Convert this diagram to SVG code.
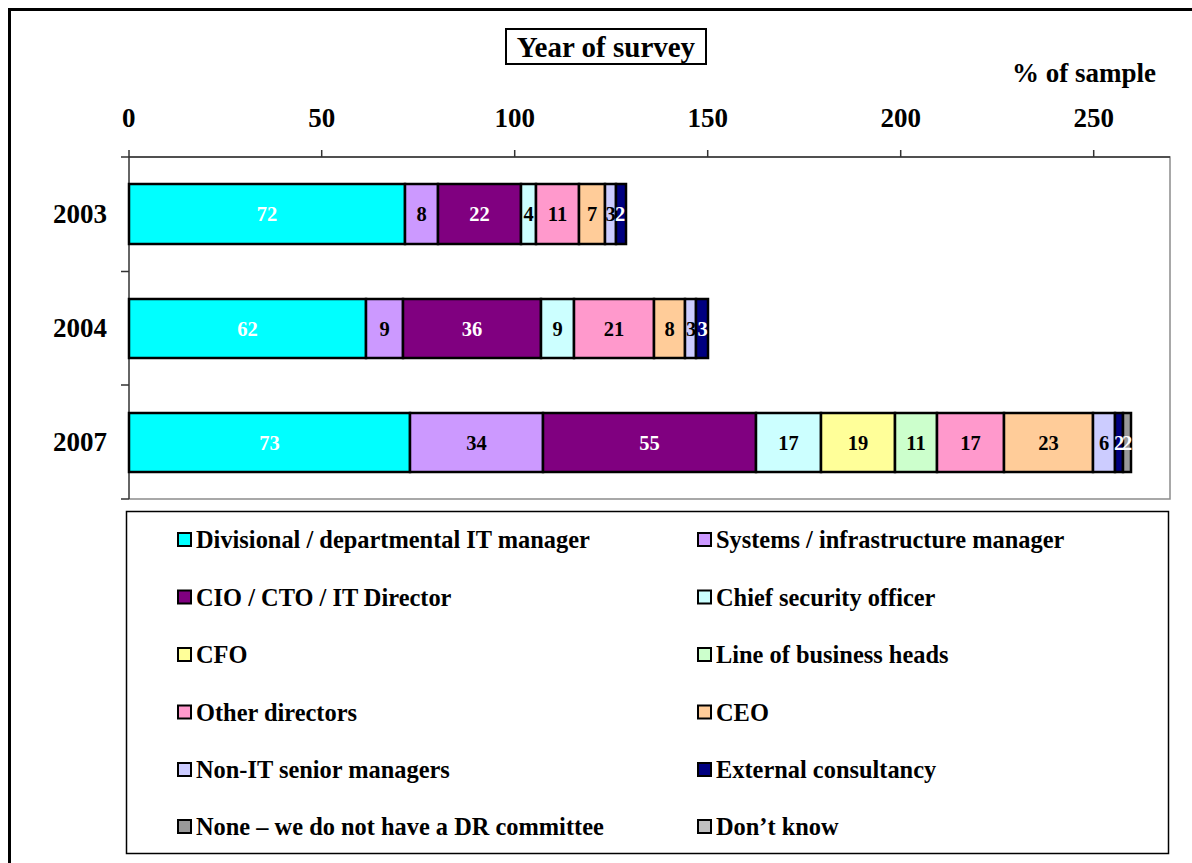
<svg xmlns="http://www.w3.org/2000/svg" width="1192" height="863" viewBox="0 0 1192 863">
  <style>
    text { font-family: "Liberation Serif", "Times New Roman", serif; font-weight: bold; fill: #000; }
    .axis { font-size: 27px; }
    .title { font-size: 29px; }
    .cat { font-size: 27px; text-anchor: end; }
    .val { font-size: 20.5px; text-anchor: middle; }
    .w { fill: #fff; }
    .leg { font-size: 24.4px; }
    .seg { stroke: #000; stroke-width: 2.5; }
    .sw { stroke: #000; stroke-width: 2; }
    .ax { stroke: #333; stroke-width: 1.5; fill: none; }
    .frame { stroke: #8c8c8c; stroke-width: 1.5; fill: none; }
    .c1 { fill: #00FFFF; } .c2 { fill: #CC99FF; } .c3 { fill: #800080; }
    .c4 { fill: #CCFFFF; } .c5 { fill: #FFFF99; } .c6 { fill: #CCFFCC; }
    .c7 { fill: #FF99CC; } .c8 { fill: #FFCC99; } .c9 { fill: #CCCCFF; }
    .c10 { fill: #000080; } .c11 { fill: #999999; } .c12 { fill: #C0C0C0; }
  </style>

  <rect width="1192" height="863" fill="#fff"/>
  <!-- outer chart border, runs off the right and bottom edges -->
  <rect x="9.5" y="9.5" width="1200" height="870" fill="none" stroke="#000" stroke-width="3"/>

  <!-- title box -->
  <g id="title">
    <rect x="506" y="29" width="200" height="35" fill="#fff" stroke="#000" stroke-width="2"/>
    <text class="title" x="606" y="57" text-anchor="middle">Year of survey</text>
  </g>
  <text class="axis" x="1156" y="82" text-anchor="end">% of sample</text>

  <!-- plot frame and axes -->
  <g id="axes">
    <polyline class="frame" points="129,157 1170,157 1170,499 129,499"/>
    <line class="ax" x1="121" y1="157" x2="1170" y2="157"/>
    <line class="ax" x1="129" y1="150" x2="129" y2="499"/>
    <path class="ax" d="M321.7,150V157 M514.7,150V157 M707.7,150V157 M900.7,150V157 M1093.7,150V157 M121,271.5H129 M121,385H129 M121,499H129"/>
    <g class="axis" text-anchor="middle">
      <text x="128.7" y="127">0</text>
      <text x="321.7" y="127">50</text>
      <text x="514.7" y="127">100</text>
      <text x="707.7" y="127">150</text>
      <text x="900.7" y="127">200</text>
      <text x="1093.7" y="127">250</text>
    </g>
    <text class="cat" x="107" y="223">2003</text>
    <text class="cat" x="107" y="337">2004</text>
    <text class="cat" x="107" y="451">2007</text>
  </g>

  <!-- 2003 bar -->
  <g id="bar-2003">
    <rect class="seg c1" x="129" y="184" width="276" height="60"/>
    <rect class="seg c2" x="405" y="184" width="33" height="60"/>
    <rect class="seg c3" x="438" y="184" width="83" height="60"/>
    <rect class="seg c4" x="521" y="184" width="15" height="60"/>
    <rect class="seg c7" x="536" y="184" width="43" height="60"/>
    <rect class="seg c8" x="579" y="184" width="26" height="60"/>
    <rect class="seg c9" x="605" y="184" width="11" height="60"/>
    <rect class="seg c10" x="616" y="184" width="10" height="60"/>
    <text class="val w" x="267" y="221">72</text>
    <text class="val" x="421.5" y="221">8</text>
    <text class="val w" x="479.5" y="221">22</text>
    <text class="val" x="528.5" y="221">4</text>
    <text class="val" x="557.5" y="221">11</text>
    <text class="val" x="592" y="221">7</text>
    <text class="val" x="610.5" y="221">3</text>
    <text class="val w" x="620" y="221">2</text>
  </g>

  <!-- 2004 bar -->
  <g id="bar-2004">
    <rect class="seg c1" x="129" y="299" width="237" height="59"/>
    <rect class="seg c2" x="366" y="299" width="37" height="59"/>
    <rect class="seg c3" x="403" y="299" width="138" height="59"/>
    <rect class="seg c4" x="541" y="299" width="33" height="59"/>
    <rect class="seg c7" x="574" y="299" width="80" height="59"/>
    <rect class="seg c8" x="654" y="299" width="31" height="59"/>
    <rect class="seg c9" x="685" y="299" width="11" height="59"/>
    <rect class="seg c10" x="696" y="299" width="12" height="59"/>
    <text class="val w" x="247.5" y="335.5">62</text>
    <text class="val" x="384.5" y="335.5">9</text>
    <text class="val w" x="472" y="335.5">36</text>
    <text class="val" x="557.5" y="335.5">9</text>
    <text class="val" x="614" y="335.5">21</text>
    <text class="val" x="669.5" y="335.5">8</text>
    <text class="val" x="691" y="335.5">3</text>
    <text class="val w" x="702.5" y="335.5">3</text>
  </g>

  <!-- 2007 bar -->
  <g id="bar-2007">
    <rect class="seg c1" x="129" y="413" width="281" height="59"/>
    <rect class="seg c2" x="410" y="413" width="133" height="59"/>
    <rect class="seg c3" x="543" y="413" width="213" height="59"/>
    <rect class="seg c4" x="756" y="413" width="65" height="59"/>
    <rect class="seg c5" x="821" y="413" width="74" height="59"/>
    <rect class="seg c6" x="895" y="413" width="42" height="59"/>
    <rect class="seg c7" x="937" y="413" width="67" height="59"/>
    <rect class="seg c8" x="1004" y="413" width="89" height="59"/>
    <rect class="seg c9" x="1093" y="413" width="22" height="59"/>
    <rect class="seg c10" x="1115" y="413" width="8" height="59"/>
    <rect class="seg c11" x="1123" y="413" width="8" height="59"/>
    <text class="val w" x="269.5" y="449.5">73</text>
    <text class="val" x="476.5" y="449.5">34</text>
    <text class="val w" x="649.5" y="449.5">55</text>
    <text class="val" x="788.5" y="449.5">17</text>
    <text class="val" x="858" y="449.5">19</text>
    <text class="val" x="916" y="449.5">11</text>
    <text class="val" x="970.5" y="449.5">17</text>
    <text class="val" x="1048.5" y="449.5">23</text>
    <text class="val" x="1104" y="449.5">6</text>
    <text class="val w" x="1119" y="449.5">2</text>
    <text class="val w" x="1127" y="449.5">2</text>
  </g>

  <!-- legend -->
  <g id="legend">
    <rect x="126.5" y="511.5" width="1042" height="342" fill="#fff" stroke="#000" stroke-width="1.5"/>
    <g id="leg-divisional"><rect class="sw c1" x="178" y="533" width="13" height="13"/><text class="leg" x="196" y="548">Divisional / departmental IT manager</text></g>
    <g id="leg-systems"><rect class="sw c2" x="698" y="533" width="13" height="13"/><text class="leg" x="716" y="548">Systems / infrastructure manager</text></g>
    <g id="leg-cio"><rect class="sw c3" x="178" y="590.5" width="13" height="13"/><text class="leg" x="196" y="605.5">CIO / CTO / IT Director</text></g>
    <g id="leg-cso"><rect class="sw c4" x="698" y="590.5" width="13" height="13"/><text class="leg" x="716" y="605.5">Chief security officer</text></g>
    <g id="leg-cfo"><rect class="sw c5" x="178" y="648" width="13" height="13"/><text class="leg" x="196" y="663">CFO</text></g>
    <g id="leg-lob"><rect class="sw c6" x="698" y="648" width="13" height="13"/><text class="leg" x="716" y="663">Line of business heads</text></g>
    <g id="leg-other"><rect class="sw c7" x="178" y="705.5" width="13" height="13"/><text class="leg" x="196" y="720.5">Other directors</text></g>
    <g id="leg-ceo"><rect class="sw c8" x="698" y="705.5" width="13" height="13"/><text class="leg" x="716" y="720.5">CEO</text></g>
    <g id="leg-nonit"><rect class="sw c9" x="178" y="763" width="13" height="13"/><text class="leg" x="196" y="778">Non-IT senior managers</text></g>
    <g id="leg-external"><rect class="sw c10" x="698" y="763" width="13" height="13"/><text class="leg" x="716" y="778">External consultancy</text></g>
    <g id="leg-none"><rect class="sw c11" x="178" y="820" width="13" height="13"/><text class="leg" x="196" y="835">None – we do not have a DR committee</text></g>
    <g id="leg-dontknow"><rect class="sw c12" x="698" y="820" width="13" height="13"/><text class="leg" x="716" y="835">Don’t know</text></g>
  </g>
</svg>
